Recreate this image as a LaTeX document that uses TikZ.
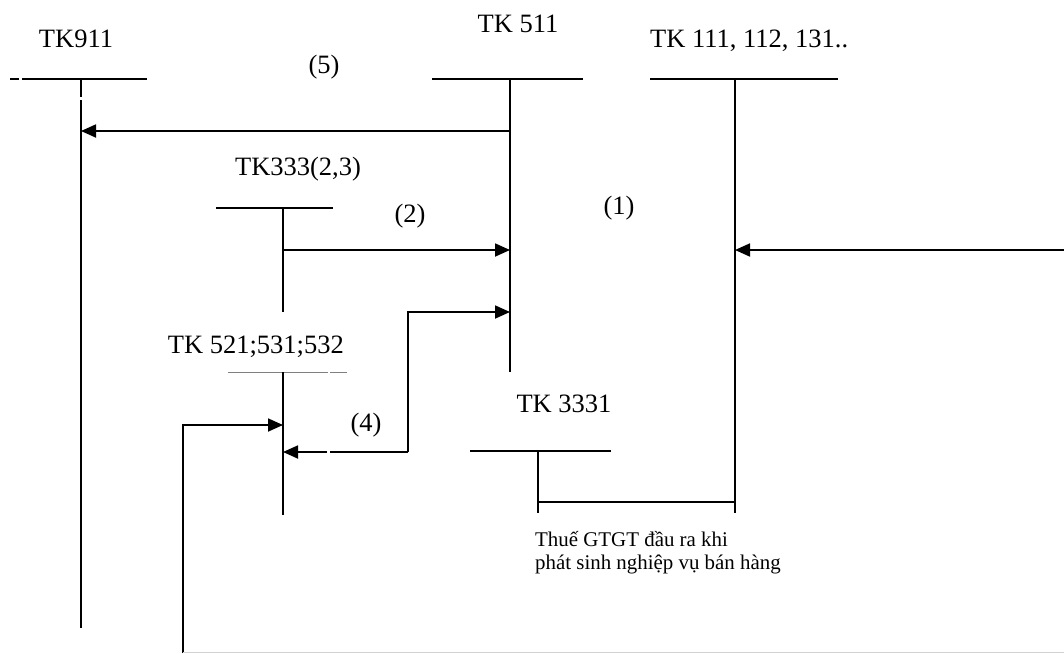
\documentclass[tikz,border=0pt]{standalone}
\usepackage{fontspec}
\setmainfont{Liberation Serif}
\usetikzlibrary{arrows.meta}
\begin{document}
\begin{tikzpicture}[x=1pt,y=-1pt,
  acc/.style={line width=1.8pt},
  greyline/.style={line width=1pt,draw=black!50},
  faint/.style={line width=1pt,draw=black!18},
  arr/.style={line width=1.8pt,-{Triangle[length=15pt,width=13pt]}},
  lbl/.style={font=\fontsize{26.5}{30}\selectfont,anchor=base,inner sep=0pt},
  note/.style={font=\fontsize{20.9}{23}\selectfont,anchor=base west,inner sep=0pt}]
\useasboundingbox (0,0) rectangle (1064,653);
% labels
\node[lbl] (l911) at (76,47) {TK911};
\node[lbl] (l511) at (518,32) {TK 511};
\node[lbl,anchor=base west] (l111) at (650,47) {TK 111, 112, 131..};
\node[lbl] (l333) at (298,175) {TK333(2,3)};
\node[lbl,anchor=base east] (l521) at (344,353) {TK 521;531;532};
\node[lbl] (l3331) at (564,412) {TK 3331};
\node[lbl] (n5) at (324,73) {(5)};
\node[lbl] (n2) at (410,222) {(2)};
\node[lbl] (n1) at (619,214) {(1)};
\node[lbl] (n4) at (366,431) {(4)};
\node[note] (t1) at (535,546) {Thuế GTGT đầu ra khi};
\node[note] (t2) at (535,569) {phát sinh nghiệp vụ bán hàng};
% coordinates
\coordinate (a911l) at (10,79);  \coordinate (a911d) at (19,79);
\coordinate (a911a) at (22,79);  \coordinate (a911r) at (147,79);
\coordinate (a911t) at (81,79);  \coordinate (a911g) at (81,97);
\coordinate (a911h) at (81,100); \coordinate (a911b) at (81,628);
\coordinate (a511l) at (432,79); \coordinate (a511r) at (583,79);
\coordinate (a511t) at (510,79); \coordinate (a511b) at (510,372);
\coordinate (a111l) at (650,79); \coordinate (a111r) at (838,79);
\coordinate (a111t) at (735,79); \coordinate (a111b) at (735,513);
\coordinate (a333l) at (216,208); \coordinate (a333r) at (333,208);
\coordinate (a333t) at (283,208); \coordinate (a333b) at (283,312);
\coordinate (a521l) at (228,372); \coordinate (a521m) at (328,372);
\coordinate (a521n) at (330,372); \coordinate (a521r) at (347,372);
\coordinate (a521t) at (283,372); \coordinate (a521b) at (283,515);
\coordinate (a3331l) at (470,451); \coordinate (a3331r) at (611,451);
\coordinate (a3331t) at (538,451); \coordinate (a3331b) at (538,513);
% T accounts
\draw[acc] (a911l) -- (a911d) (a911a) -- (a911r) (a911t) -- (a911g) (a911h) -- (a911b);
\draw[acc] (a511l) -- (a511r) (a511t) -- (a511b);
\draw[acc] (a111l) -- (a111r) (a111t) -- (a111b);
\draw[acc] (a333l) -- (a333r) (a333t) -- (a333b);
\draw[greyline] (a521l) -- (a521m) (a521n) -- (a521r);
\draw[acc] (a521t) -- (a521b);
\draw[acc] (a3331l) -- (a3331r) (a3331t) -- (a3331b);
% connectors
\coordinate (c5s) at (510,131); \coordinate (c5e) at (81,131);
\draw[arr] (c5s) -- (c5e);
\coordinate (c2s) at (283,250); \coordinate (c2e) at (510,250);
\draw[arr] (c2s) -- (c2e);
\coordinate (c1s) at (1064,250); \coordinate (c1e) at (735,250);
\draw[arr] (c1s) -- (c1e);
\coordinate (c3s) at (408,452); \coordinate (c3m) at (408,312); \coordinate (c3e) at (510,312);
\draw[arr] (c3s) -- (c3m) -- (c3e);
\coordinate (c4g) at (330,452); \coordinate (c4h) at (327,452); \coordinate (c4e) at (283,452);
\draw[acc] (c3s) -- (c4g);
\draw[arr] (c4h) -- (c4e);
\coordinate (c6s) at (183,653); \coordinate (c6m) at (183,425); \coordinate (c6e) at (283,425);
\draw[arr] (c6s) -- (c6m) -- (c6e);
\coordinate (c7s) at (183,652); \coordinate (c7e) at (1064,652);
\draw[faint] (c7s) -- (c7e);
\coordinate (c8s) at (538,502); \coordinate (c8e) at (735,502);
\draw[acc] (c8s) -- (c8e);
\end{tikzpicture}
\end{document}
